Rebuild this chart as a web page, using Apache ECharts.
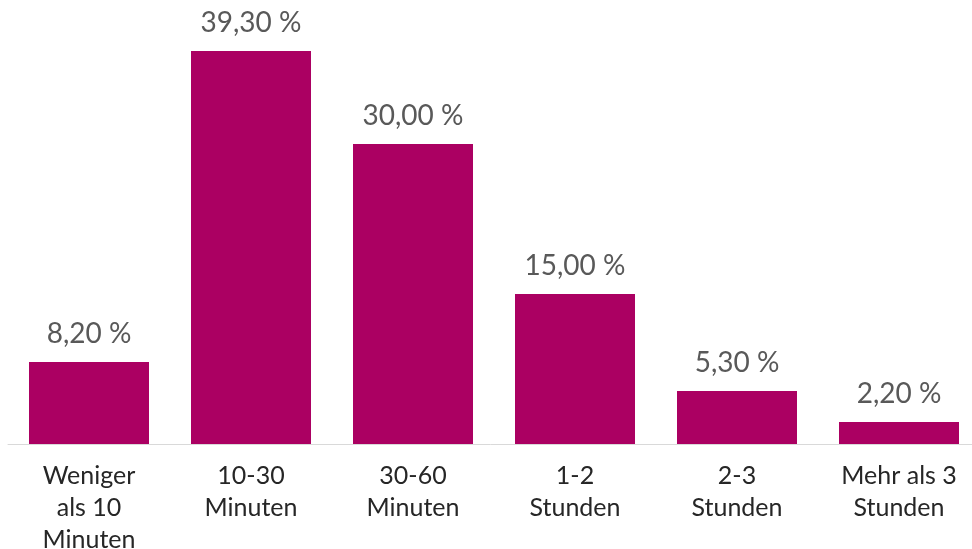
<!DOCTYPE html>
<html>
<head>
<meta charset="utf-8">
<script src="https://cdn.jsdelivr.net/npm/echarts@6/dist/echarts.min.js"></script>
<style>
  html, body { margin: 0; padding: 0; background: #fff; }
  #main { width: 972px; height: 549px; }
</style>
</head>
<body>
<div id="main"></div>
<script>
var categories = ['Weniger\nals 10\nMinuten', '10-30\nMinuten', '30-60\nMinuten', '1-2\nStunden', '2-3\nStunden', 'Mehr als 3\nStunden'];
var shares = [8.2, 39.3, 30.0, 15.0, 5.3, 2.2];

var myChart = echarts.init(document.getElementById('main'));

var option = {
    animation: false,
    grid: { left: 8, right: -8, top: 4, bottom: 105, containLabel: false, outerBoundsMode: 'none' },
    xAxis: {
        type: 'category',
        data: categories,
        axisLine: { lineStyle: { color: '#D9D9D9', width: 1 } },
        axisTick: { show: false },
        axisLabel: {
            interval: 0,
            margin: 16,
            color: '#262626',
            fontFamily: 'Lato',
            fontSize: 25,
            lineHeight: 32
        }
    },
    yAxis: {
        type: 'value',
        min: 0,
        max: 44,
        show: false,
        splitLine: { show: false }
    },
    series: [
        {
            type: 'bar',
            data: shares,
            barWidth: 120,
            itemStyle: { color: '#AB0062' },
            label: {
                show: true,
                position: 'top',
                distance: 14,
                color: '#595959',
                fontFamily: 'Lato',
                fontSize: 28,
                formatter: function (p) {
                    return p.value.toFixed(2).replace('.', ',') + ' %';
                }
            }
        }
    ]
};

myChart.setOption(option);
</script>
</body>
</html>
